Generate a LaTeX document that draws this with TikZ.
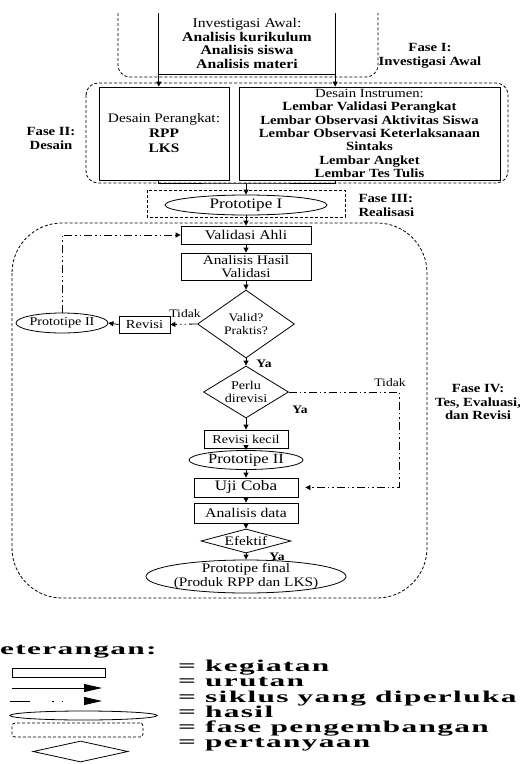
\documentclass[tikz,border=0pt]{standalone}
\usepackage{fontspec}
\setmainfont{Liberation Serif}[FakeStretch=1.18]
\newfontfamily\ketfont{Liberation Serif}[FakeStretch=1.9,LetterSpace=8]
\usetikzlibrary{arrows.meta,shapes.geometric,positioning}

\begin{document}
\begin{tikzpicture}[x=1pt,y=-1pt,
  >={Triangle[length=5pt,width=5pt]},
  kegiatan/.style={draw,line width=0.8pt,inner sep=0pt,align=center},
  hasil/.style={draw,ellipse,line width=0.8pt,inner xsep=-20pt,inner ysep=-12pt,align=center},
  tanya/.style={draw,diamond,line width=0.8pt,inner sep=-4pt,align=center},
  fase/.style={line width=0.8pt,dash pattern=on 3pt off 2pt},
  siklus/.style={line width=0.8pt,dash pattern=on 8pt off 3pt on 1.5pt off 3pt on 1.5pt off 3pt},
  urut/.style={->,line width=0.8pt},
  fasetext/.style={font=\fontsize{12.5}{13.5}\selectfont\bfseries,align=center},
  isi/.style={font=\fontsize{13.3}{13.5}\selectfont,align=center},
  kecil/.style={font=\fontsize{11.5}{12.5}\selectfont},
  ket/.style={font=\ketfont\bfseries\fontsize{16.5}{15.2}\selectfont,inner sep=0pt,align=left}]
\useasboundingbox (0,0) rectangle (520,764);

% Fase I
\draw[fase,rounded corners=12pt] (118,13) -- (118,77) -- (378,77) -- (378,13);
\node[isi,inner sep=0pt,minimum width=176pt,minimum height=61pt] (inv) at (247,43.5)
  {Investigasi Awal:\\\textbf{Analisis kurikulum}\\\textbf{Analisis siswa}\\\textbf{Analisis materi}};
\draw[line width=0.9pt] (inv.north west) -- (inv.south west) -- (inv.south east) -- (inv.north east);
\node[fasetext] (fase1) at (430,56) {Fase I:\\Investigasi Awal};

% Fase II
\draw[fase,rounded corners=12pt] (86,83) rectangle (508,183);
\node[kegiatan,font=\fontsize{13}{15}\selectfont,minimum width=130pt,minimum height=93pt] (dp) at (164,133.5)
  {Desain Perangkat:\\\textbf{RPP}\\\textbf{LKS}};
\node[kegiatan,font=\fontsize{12.5}{13.3}\selectfont,minimum width=261pt,minimum height=93pt] (di) at (369.5,133.5)
  {Desain Instrumen:\\\textbf{Lembar Validasi Perangkat}\\\textbf{Lembar Observasi Aktivitas Siswa}\\
   \textbf{Lembar Observasi Keterlaksanaan}\\\textbf{Sintaks}\\\textbf{Lembar Angket}\\\textbf{Lembar Tes Tulis}};
\node[fasetext] (fase2) at (51,138.5) {Fase II:\\Desain};
\draw[urut] (inv.south west) -- (inv.south west |- dp.north);
\draw[urut] (inv.south east) -- (inv.south east |- di.north);

% Fase III
\draw[fase] (147,190) rectangle (345,217);
\node[hasil,font=\fontsize{14.5}{15}\selectfont,minimum width=162pt,minimum height=20pt] (proto1) at (246,205) {Prototipe I};
\node[fasetext,anchor=west,align=left] (fase3) at (355,205.5) {Fase III:\\Realisasi};
\coordinate (gabung) at (246,183);
\draw[line width=0.8pt] (inv.south west |- dp.south) |- (gabung) -| (inv.south east |- di.south);
\draw[urut] (gabung) -- (proto1.north);

% Fase IV
\draw[fase,rounded corners=50pt] (12,223) rectangle (427,598);
\node[kegiatan,isi,minimum width=130pt,minimum height=18pt] (validasi) at (246,235) {Validasi Ahli};
\node[kegiatan,isi,font=\fontsize{13}{13}\selectfont,minimum width=130pt,minimum height=27pt] (analisis) at (246,266.5) {Analisis Hasil\\Validasi};
\node[tanya,kecil,minimum width=97pt,minimum height=68pt] (valid) at (246,324) {Valid?\\Praktis?};
\node[kegiatan,font=\fontsize{12.3}{13}\selectfont,minimum width=51pt,minimum height=17pt] (revisi) at (144.5,324.5) {Revisi};
\node[hasil,font=\fontsize{12}{13}\selectfont,minimum width=92pt,minimum height=20pt] (proto2a) at (62,323) {Prototipe II};
\node[tanya,font=\fontsize{12}{13}\selectfont,minimum width=85pt,minimum height=52pt] (perlu) at (246,392) {Perlu\\direvisi};
\node[kegiatan,font=\fontsize{12}{13}\selectfont,minimum width=84pt,minimum height=18pt] (revkecil) at (246,439) {Revisi kecil};
\node[hasil,isi,font=\fontsize{14}{14}\selectfont,minimum width=114pt,minimum height=19pt] (proto2b) at (246,460) {Prototipe II};
\node[kegiatan,isi,font=\fontsize{14.5}{14}\selectfont,minimum width=104pt,minimum height=19pt] (uji) at (246,487.5) {Uji Coba};
\node[kegiatan,isi,minimum width=104pt,minimum height=20pt] (data) at (246,513) {Analisis data};
\node[tanya,font=\fontsize{13}{13}\selectfont,shape aspect=3,minimum width=90pt,minimum height=24pt] (efektif) at (246,541) {Efektif};
\node[hasil,font=\fontsize{13}{13.5}\selectfont,minimum width=200pt,minimum height=33pt] (final) at (246,576.5) {Prototipe final\\(Produk RPP dan LKS)};
\node[fasetext] (fase4) at (478,402) {Fase IV:\\Tes, Evaluasi,\\dan Revisi};

\foreach \a/\b in {proto1/validasi,validasi/analisis,analisis/valid,valid/perlu,perlu/revkecil,
  revkecil/proto2b,proto2b/uji,uji/data,data/efektif,efektif/final}
  \draw[urut] (\a.south) -- (\b.north);

\node[kecil] (tidak1) at (185,314) {Tidak};
\node[kecil] (ya1) at (264,364) {\textbf{Ya}};
\node[kecil] (tidak2) at (390,383) {Tidak};
\node[kecil] (ya2) at (300,410) {\textbf{Ya}};
\node[kecil] (ya3) at (277,557) {\textbf{Ya}};

\draw[siklus,->] (valid.west) -- (revisi.east);
\draw[urut] (revisi.west) -- (proto2a.east);
\draw[siklus,->] (proto2a.north) |- (validasi.west);
\coordinate (belok) at (399,392);
\draw[siklus,->,shorten >=7pt] (perlu.east) -- (belok) |- (uji.east);

% keterangan
\node[ket,anchor=mid west] (judul) at (0,652) {eterangan:};
\node[kegiatan,minimum width=93pt,minimum height=9pt] (lkegiatan) at (58.5,672.5) {};
\coordinate (lurutA) at (12,688);
\coordinate (lurutB) at (102,688);
\draw[line width=0.8pt,-{Triangle[length=18pt,width=8pt]}] (lurutA) -- (lurutB);
\coordinate (lsiklusA) at (10,701);
\coordinate (lsiklusB) at (102,701);
\draw[line width=0.8pt,dash pattern=on 20pt off 22pt on 1.5pt off 8pt on 1.5pt off 30pt,-{Triangle[length=18pt,width=8pt]}] (lsiklusA) -- (lsiklusB);
\node[hasil,minimum width=147pt,minimum height=9pt] (lhasil) at (83.5,715.5) {};
\node[fase,draw,rounded corners=3pt,minimum width=131pt,minimum height=14pt] (lfase) at (77.5,730) {};
\node[tanya,minimum width=95pt,minimum height=21pt] (ltanya) at (80.5,751.5) {};

\node[ket,anchor=north west] (arti) at (178,660)
  {= kegiatan\\= urutan\\= siklus yang diperluka\\= hasil\\= fase pengembangan\\= pertanyaan};

\end{tikzpicture}
\end{document}
